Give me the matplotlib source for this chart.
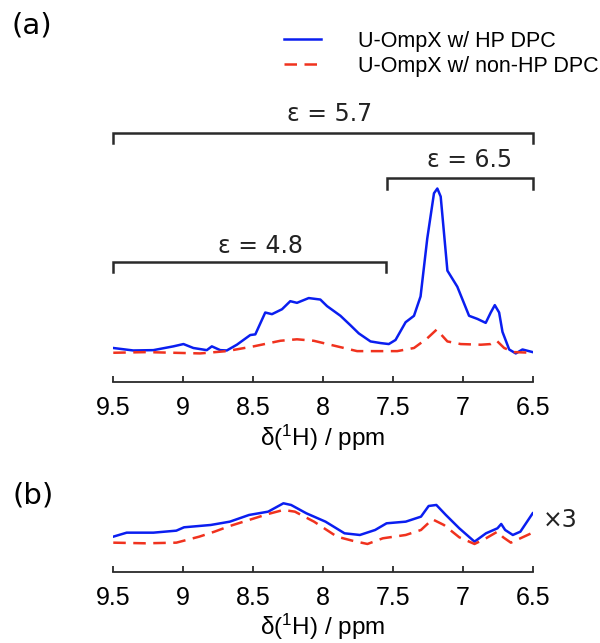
import matplotlib
matplotlib.use('Agg')
import matplotlib.pyplot as plt

plt.rcParams['mathtext.fontset'] = 'custom'
plt.rcParams['mathtext.rm'] = 'Liberation Sans'

# panel (a): 1H spectra, intensity normalised to the HP DPC peak
ppm_a_hp = [9.5, 9.357, 9.213, 9.07, 8.998, 8.927, 8.831, 8.795, 8.735, 8.688, 8.616,
            8.52, 8.484, 8.413, 8.365, 8.293, 8.234, 8.186, 8.102, 8.019, 7.971, 7.875,
            7.803, 7.744, 7.66, 7.588, 7.529, 7.481, 7.409, 7.349, 7.302, 7.254, 7.206,
            7.182, 7.158, 7.11, 7.039, 6.955, 6.895, 6.836, 6.8, 6.771, 6.74, 6.716,
            6.668, 6.621, 6.573, 6.5]
int_a_hp = [0.029, 0.014, 0.016, 0.039, 0.053, 0.029, 0.016, 0.039, 0.016, 0.014, 0.049,
            0.108, 0.112, 0.245, 0.235, 0.265, 0.314, 0.304, 0.333, 0.324, 0.284, 0.225,
            0.167, 0.118, 0.069, 0.059, 0.053, 0.078, 0.186, 0.225, 0.343, 0.696, 0.971,
            1.0, 0.951, 0.5, 0.402, 0.225, 0.206, 0.182, 0.245, 0.29, 0.245, 0.127,
            0.02, -0.004, 0.02, 0.004]

ppm_a_non = [9.5, 9.261, 8.879, 8.688, 8.496, 8.305, 8.186, 8.066, 7.899, 7.756, 7.588,
             7.469, 7.349, 7.254, 7.187, 7.11, 7.015, 6.871, 6.8, 6.757, 6.704, 6.633, 6.5]
int_a_non = [0.0, 0.004, -0.004, 0.01, 0.039, 0.073, 0.082, 0.073, 0.039, 0.01, 0.01,
             0.01, 0.029, 0.088, 0.141, 0.069, 0.053, 0.049, 0.053, 0.073, 0.029, 0.004, 0.0]

# panel (b): x3 scaled
ppm_b_hp = [9.5, 9.404, 9.213, 9.049, 8.994, 8.803, 8.666, 8.529, 8.392, 8.283, 8.228,
            8.119, 7.982, 7.846, 7.736, 7.627, 7.545, 7.408, 7.299, 7.244, 7.189, 7.121,
            7.025, 6.916, 6.834, 6.752, 6.725, 6.697, 6.642, 6.588, 6.5]
int_b_hp = [0.333, 0.433, 0.433, 0.483, 0.567, 0.625, 0.708, 0.875, 0.958, 1.167, 1.125,
            0.917, 0.708, 0.417, 0.375, 0.5, 0.667, 0.708, 0.833, 1.1, 1.125, 0.875,
            0.542, 0.208, 0.417, 0.542, 0.65, 0.5, 0.375, 0.458, 0.917]

ppm_b_non = [9.5, 9.268, 9.049, 8.885, 8.776, 8.666, 8.529, 8.392, 8.283, 8.201, 8.064,
             7.9, 7.791, 7.682, 7.572, 7.408, 7.299, 7.217, 7.135, 7.025, 6.916, 6.834,
             6.752, 6.711, 6.656, 6.5]
int_b_non = [0.183, 0.167, 0.183, 0.333, 0.458, 0.6, 0.75, 0.9, 1.0, 0.958, 0.708,
             0.333, 0.233, 0.15, 0.292, 0.375, 0.5, 0.767, 0.625, 0.317, 0.15, 0.292,
             0.458, 0.317, 0.183, 0.433]

# epsilon brackets: (start ppm, end ppm, label)
brackets = [(9.5, 6.5, 'ε = 5.7'), (7.54, 6.5, 'ε = 6.5'), (9.5, 7.55, 'ε = 4.8')]
bracket_y = [1.338, 1.063, 0.553]
label_x = [7.95, 6.95, 8.445]
label_y = [1.451, 1.176, 0.647]

ticks = [9.5, 9, 8.5, 8, 7.5, 7, 6.5]
tick_labels = ['9.5', '9', '8.5', '8', '7.5', '7', '6.5']

blue = '#0a1ef0'
red = '#f0321e'
sans = 'Liberation Sans'

fig = plt.figure(figsize=(6, 6.43), dpi=100)
ax_a = fig.add_axes([0.1888, 0.4054, 0.699, 0.4391])
ax_b = fig.add_axes([0.1888, 0.1109, 0.699, 0.1271])

ax_a.plot(ppm_a_hp, int_a_hp, color=blue, lw=1.8, label='U-OmpX w/ HP DPC')
ax_a.plot(ppm_a_non, int_a_non, color=red, lw=1.8, dashes=(5, 3), label='U-OmpX w/ non-HP DPC')
ax_a.set_ylim(-0.18, 1.539)

ax_b.plot(ppm_b_hp, int_b_hp, color=blue, lw=1.8)
ax_b.plot(ppm_b_non, int_b_non, color=red, lw=1.8, dashes=(5, 3))
ax_b.set_ylim(-0.5425, 1.5)

for ax in (ax_a, ax_b):
    ax.set_xlim(9.5, 6.5)
    for s in ('left', 'right', 'top'):
        ax.spines[s].set_visible(False)
    ax.spines['bottom'].set_linewidth(1.3)
    ax.spines['bottom'].set_color('#2a2a2a')
    ax.set_yticks([])
    ax.set_xticks(ticks)
    ax.set_xticklabels(tick_labels, fontfamily=sans, fontsize=18)
    ax.tick_params(axis='x', direction='in', length=4, width=1.3, color='#2a2a2a', pad=10)
    ax.set_xlabel(r'δ($\mathregular{^1}$H) / ppm', fontfamily=sans, fontsize=17.5, labelpad=1.5)

# brackets with epsilon values
for (x0, x1, txt), yb, tx, ty in zip(brackets, bracket_y, label_x, label_y):
    ax_a.plot([x0, x0, x1, x1], [yb - 0.063, yb, yb, yb - 0.063], color='#2a2a2a',
              lw=1.8, solid_joinstyle='miter', clip_on=False)
    ax_a.text(tx, ty, txt, ha='center', va='center', fontsize=17, family='DejaVu Sans',
              color='#222222')

ax_b.text(1.065, 0.635, '×3', transform=ax_b.transAxes, ha='center', va='center',
          fontsize=17, family='DejaVu Sans', color='#222222')

fig.text(0.053, 0.961, '(a)', ha='center', va='center', fontsize=21, family='DejaVu Sans')
fig.text(0.055, 0.23, '(b)', ha='center', va='center', fontsize=21, family='DejaVu Sans')

fig.legend(loc='upper left', bbox_to_anchor=(0.455, 0.969), frameon=False,
           prop={'family': sans, 'size': 15.5}, handlelength=1.75, handletextpad=1.7,
           labelspacing=0.2, borderpad=0)

fig.savefig('out.png', dpi=100)
